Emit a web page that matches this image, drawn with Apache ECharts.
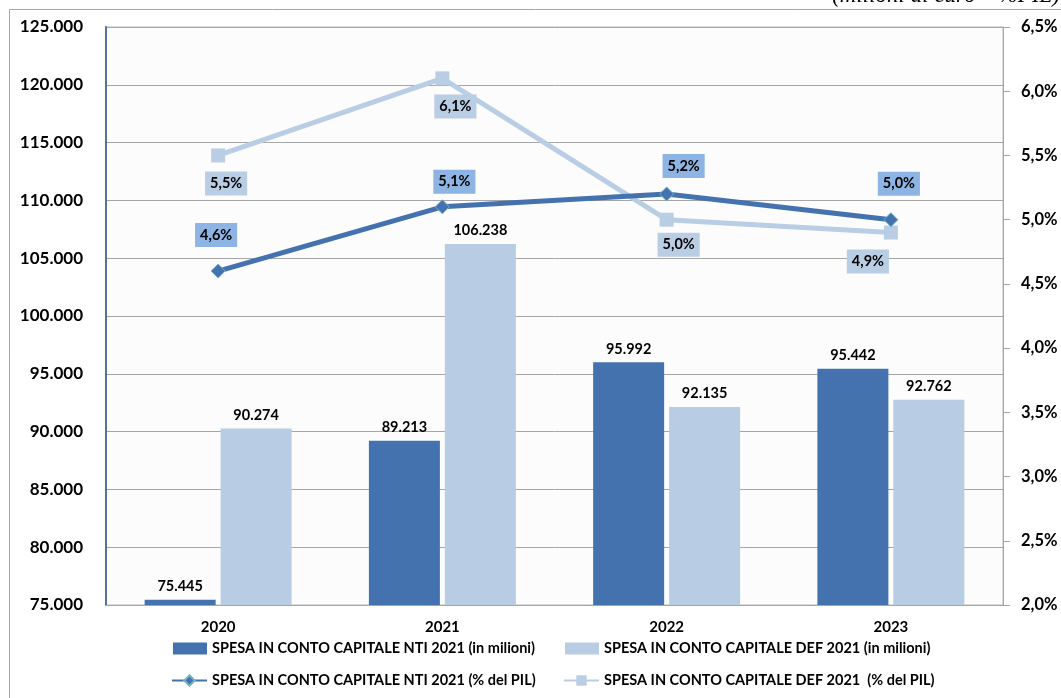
<!DOCTYPE html>
<html>
<head>
<meta charset="utf-8">
<title>Spesa in conto capitale</title>
<script src="https://cdn.jsdelivr.net/npm/echarts@6/dist/echarts.min.js"></script>
<style>
  html, body { margin: 0; padding: 0; background: #ffffff; }
  #chart { width: 1061px; height: 698px; }
</style>
</head>
<body>
<div id="chart"></div>
<script>
// Anni e valori (milioni di euro e % del PIL)
const years = ['2020', '2021', '2022', '2023'];
const ntiMilioni = [75445, 89213, 95992, 95442];
const defMilioni = [90274, 106238, 92135, 92762];
const ntiPil = [4.6, 5.1, 5.2, 5.0];
const defPil = [5.5, 6.1, 5.0, 4.9];

// Series names shown in the legend
const nameNtiMil = 'SPESA IN CONTO CAPITALE NTI 2021 (in milioni)';
const nameDefMil = 'SPESA IN CONTO CAPITALE DEF 2021 (in milioni)';
const nameNtiPil = 'SPESA IN CONTO CAPITALE NTI 2021 (% del PIL)';
const nameDefPil = 'SPESA IN CONTO CAPITALE DEF 2021  (% del PIL)';

// Label placement (pixel offsets from each marker)
const ntiLabelOffsets = [[-2, -36], [12, -25], [17, -28], [8, -36]];
const defLabelOffsets = [[8, 28], [13, 28], [12, 25], [-23, 29]];

const FONT = 'Lato, "Open Sans", sans-serif';
const fmtThousands = v => (v / 1000).toFixed(3);
const fmtPct = v => v.toFixed(1).replace('.', ',') + '%';

const chart = echarts.init(document.getElementById('chart'), null, { renderer: 'canvas' });

function pctData(values, offsets) {
  return values.map((v, i) => ({ value: v, label: { offset: offsets[i] } }));
}

const legendText = { fontFamily: FONT, fontWeight: 'bold', fontSize: 14.5, color: '#000' };
const legendBase = { padding: 0, itemGap: 0, textStyle: legendText };

chart.setOption({
  animation: false,
  backgroundColor: '#ffffff',
  graphic: [
    {
      type: 'rect',
      shape: { x: 9.5, y: 9.5, width: 1200, height: 1000 },
      style: { fill: 'none', stroke: '#a6a6a6', lineWidth: 1 },
      silent: true, z: -10
    },
    {
      type: 'text',
      right: 1, top: -16,
      style: {
        text: '(milioni di euro \u2013 %PIL)',
        font: 'italic 23px "Liberation Serif", "DejaVu Serif", serif',
        fill: '#000'
      },
      silent: true
    }
  ],
  grid: {
    left: 106, right: 58, top: 27, bottom: 93,
    show: true, backgroundColor: '#fcfcfc', borderColor: '#bcbcbc', borderWidth: 1
  },
  legend: [
    Object.assign({ data: [nameNtiMil], left: 173, top: 641, itemWidth: 34, itemHeight: 12, icon: 'rect' }, legendBase),
    Object.assign({ data: [nameDefMil], left: 565, top: 641, itemWidth: 34, itemHeight: 12, icon: 'rect' }, legendBase),
    Object.assign({ data: [nameNtiPil], left: 171, top: 673, itemWidth: 35, itemHeight: 13 }, legendBase),
    Object.assign({ data: [nameDefPil], left: 563, top: 673, itemWidth: 35, itemHeight: 13 }, legendBase)
  ],
  xAxis: {
    type: 'category',
    data: years,
    axisLine: { lineStyle: { color: '#a6a6a6', width: 1 } },
    axisTick: { show: false },
    axisLabel: { margin: 15, fontFamily: FONT, fontWeight: 'bold', fontSize: 15, color: '#000' }
  },
  yAxis: [
    {
      type: 'value', min: 75000, max: 125000, interval: 5000,
      axisLine: { show: true, lineStyle: { color: '#56739a', width: 2 } },
      axisTick: { show: false },
      splitLine: { lineStyle: { color: '#a6a6a6', width: 1 } },
      axisLabel: { margin: 23, formatter: fmtThousands, fontFamily: FONT, fontWeight: 'bold', fontSize: 17, color: '#000' }
    },
    {
      type: 'value', min: 2, max: 6.5, interval: 0.5, position: 'right',
      axisLine: { show: true, lineStyle: { color: '#a6a6a6', width: 1 } },
      axisTick: { show: true, inside: false, length: 7, lineStyle: { color: '#a6a6a6' } },
      splitLine: { show: false },
      axisLabel: { margin: 18, formatter: fmtPct, fontFamily: FONT, fontWeight: 'bold', fontSize: 16.5, color: '#000' }
    }
  ],
  series: [
    {
      name: nameNtiMil, type: 'bar', data: ntiMilioni,
      barWidth: 71, barGap: '7%',
      itemStyle: { color: '#4372ae' },
      label: { show: true, position: 'top', distance: 6, formatter: p => fmtThousands(p.value),
               fontFamily: FONT, fontWeight: 'bold', fontSize: 14.5, color: '#000' }
    },
    {
      name: nameDefMil, type: 'bar', data: defMilioni,
      barWidth: 71,
      itemStyle: { color: '#b8cce4' },
      label: { show: true, position: 'top', distance: 6, formatter: p => fmtThousands(p.value),
               fontFamily: FONT, fontWeight: 'bold', fontSize: 14.5, color: '#000' }
    },
    {
      name: nameDefPil, type: 'line', yAxisIndex: 1, z: 5,
      data: pctData(defPil, defLabelOffsets),
      symbol: 'rect', symbolSize: 14,
      lineStyle: { color: '#b9cde5', width: 5 },
      itemStyle: { color: '#b9cde5' },
      label: { show: true, position: 'inside', formatter: p => fmtPct(p.value),
               backgroundColor: '#b9cde5', padding: [5, 5, 4, 5],
               fontFamily: FONT, fontWeight: 'bold', fontSize: 14.5, color: '#000' }
    },
    {
      name: nameNtiPil, type: 'line', yAxisIndex: 1, z: 6,
      data: pctData(ntiPil, ntiLabelOffsets),
      symbol: 'diamond', symbolSize: 14,
      lineStyle: { color: '#4372ae', width: 5 },
      itemStyle: { color: '#4372ae', borderColor: '#6fb3c4', borderWidth: 1 },
      label: { show: true, position: 'inside', formatter: p => fmtPct(p.value),
               backgroundColor: '#8db4e2', padding: [5, 5, 4, 5],
               fontFamily: FONT, fontWeight: 'bold', fontSize: 14.5, color: '#000' }
    }
  ]
});
</script>
</body>
</html>
